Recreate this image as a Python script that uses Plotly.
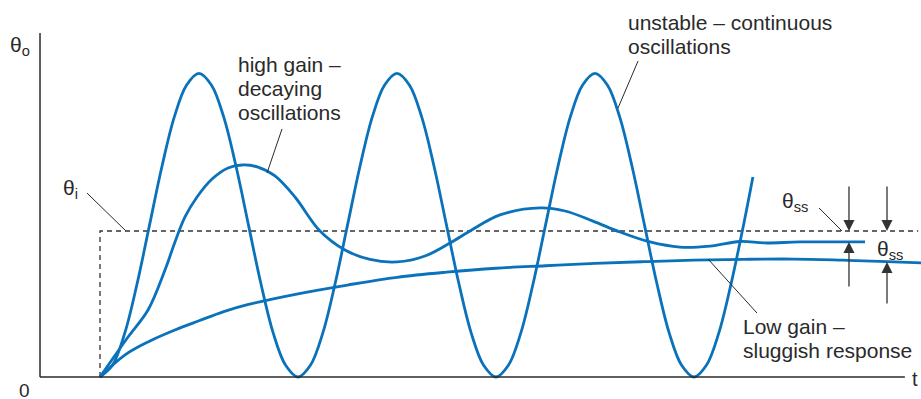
import plotly.graph_objects as go

# ---- data (t in units, step applied at t=0; theta in units of theta_i) ----
unstable_t = [0, 0.25, 0.5, 0.75, 1, 1.25, 1.5, 1.75, 2, 2.25, 2.5, 2.75, 3, 3.25, 3.5, 3.75,
              4, 4.25, 4.5, 4.75, 5, 5.25, 5.5, 5.75, 6, 6.25, 6.5, 6.75, 7, 7.25, 7.5, 7.75,
              8, 8.25, 8.5, 8.75, 9, 9.25, 9.5, 9.75, 10, 10.25, 10.5, 10.75, 11, 11.25, 11.5, 11.75,
              12, 12.25, 12.5, 12.75, 13, 13.19]
unstable_v = [0, 0.08, 0.30, 0.64, 1.04, 1.44, 1.78, 2.00, 2.08, 2.00, 1.78, 1.44, 1.04, 0.64, 0.30, 0.08,
              0, 0.08, 0.30, 0.64, 1.04, 1.44, 1.78, 2.00, 2.08, 2.00, 1.78, 1.44, 1.04, 0.64, 0.30, 0.08,
              0, 0.08, 0.30, 0.64, 1.04, 1.44, 1.78, 2.00, 2.08, 2.00, 1.78, 1.44, 1.04, 0.64, 0.30, 0.08,
              0, 0.08, 0.30, 0.64, 1.04, 1.37]

highgain_t = [0, 0.566, 0.970, 1.313, 1.515, 1.717, 1.960, 2.263, 2.586, 2.869,
              3.192, 3.535, 3.939, 4.444, 4.949, 5.455, 6.0, 6.566, 7.071, 7.475,
              8.081, 8.889, 9.394, 9.960, 10.505, 11.111, 11.717, 12.323, 12.929,
              13.434, 14.141, 15.455]
highgain_v = [0, 0.274, 0.459, 0.733, 0.925, 1.096, 1.233, 1.356, 1.432, 1.452,
              1.438, 1.377, 1.233, 1.0, 0.870, 0.805, 0.788, 0.829, 0.918, 1.0,
              1.110, 1.158, 1.137, 1.068, 0.993, 0.925, 0.890, 0.897, 0.928,
              0.918, 0.925, 0.925]

lowgain_t = [0, 0.5, 1, 1.5, 2, 2.5, 3, 4, 5, 6, 7, 8, 9, 10, 11, 12, 13, 14, 15,
             15.9, 16.59]
lowgain_v = [0, 0.15, 0.245, 0.32, 0.385, 0.448, 0.497, 0.57, 0.63, 0.683, 0.718,
             0.745, 0.762, 0.778, 0.79, 0.80, 0.806, 0.808, 0.80, 0.79, 0.781]

step_t = [0, 0, 16.53]
step_v = [0, 1, 1]

BLUE = "#0A72BA"
INK = "#2a2a2a"

X0, X1 = -100 / 49.5, 821 / 49.5
Y0, Y1 = -22 / 146, 377 / 146
W, H = 921, 399


def P(px, py):
    return px / W, 1 - py / H


fig = go.Figure()
fig.add_trace(go.Scatter(x=step_t, y=step_v, mode="lines",
                         line=dict(color="#333", width=1.3, dash="5px,4px"),
                         hoverinfo="skip"))
for tt, vv in [(lowgain_t, lowgain_v), (highgain_t, highgain_v), (unstable_t, unstable_v)]:
    fig.add_trace(go.Scatter(x=tt, y=vv, mode="lines",
                             line=dict(color=BLUE, width=2.8, shape="spline", smoothing=1.0),
                             hoverinfo="skip"))

# axes
fig.add_shape(type="line", x0=-1.212, y0=0, x1=16.26, y1=0, line=dict(color=INK, width=1.5))
fig.add_shape(type="line", x0=-1.212, y0=0, x1=-1.212, y1=2.356, line=dict(color=INK, width=1.5))

# leader lines
leaders = [
    ((-0.263, 1.260), (0.525, 1.0)),
    ((3.677, 1.699), (3.374, 1.397)),
    ((10.869, 2.164), (10.465, 1.842)),
    ((12.283, 0.808), (13.273, 0.438)),
    ((14.525, 1.158), (14.990, 1.0)),
]
for (a, b) in leaders:
    fig.add_shape(type="line", x0=a[0], y0=a[1], x1=b[0], y1=b[1],
                  line=dict(color=INK, width=1))

# arrows (tip, tail)
arrows = [
    ((15.131, 1.0), (15.131, 1.315)),
    ((15.131, 0.925), (15.131, 0.610)),
    ((15.899, 1.0), (15.899, 1.315)),
    ((15.899, 0.788), (15.899, 0.493)),
]
for tip, tail in arrows:
    fig.add_annotation(x=tip[0], y=tip[1], ax=tail[0], ay=tail[1], xref="x", yref="y",
                       axref="x", ayref="y", text="", showarrow=True, arrowhead=2,
                       arrowsize=1.7, arrowwidth=1.3, arrowcolor="#333", standoff=0)

FONT = "Liberation Sans, Arial, sans-serif"


def label(text, px, py, size=21, anchor="left"):
    x, y = P(px, py)
    fig.add_annotation(x=x, y=y, xref="paper", yref="paper", text=text, showarrow=False,
                       xanchor=anchor, yanchor="middle",
                       font=dict(family=FONT, size=size, color=INK))


label("high gain –", 236, 65)
label("decaying", 236, 89)
label("oscillations", 236, 113)
label("unstable – continuous", 626, 22)
label("oscillations", 626, 46)
label("Low gain –", 741, 326)
label("sluggish response", 741, 350)
label("θ<sub>o</sub>", 8, 46, size=21)
label("θ<sub>i</sub>", 61, 189, size=21)
label("θ<sub>ss</sub>", 780, 202, size=21)
label("θ<sub>ss</sub>", 875, 250, size=21)
label("0", 24, 390, size=19, anchor="center")
label("t", 915, 379, size=20, anchor="center")

fig.update_layout(
    width=W, height=H, margin=dict(l=0, r=0, t=0, b=0),
    paper_bgcolor="white", plot_bgcolor="white", showlegend=False,
    xaxis=dict(range=[X0, X1], visible=False, fixedrange=True),
    yaxis=dict(range=[Y0, Y1], visible=False, fixedrange=True),
)
fig.write_html("out.html", config={"displayModeBar": False},
               post_script="document.body.style.margin='0';document.body.style.padding='0';document.body.style.overflow='hidden';")
